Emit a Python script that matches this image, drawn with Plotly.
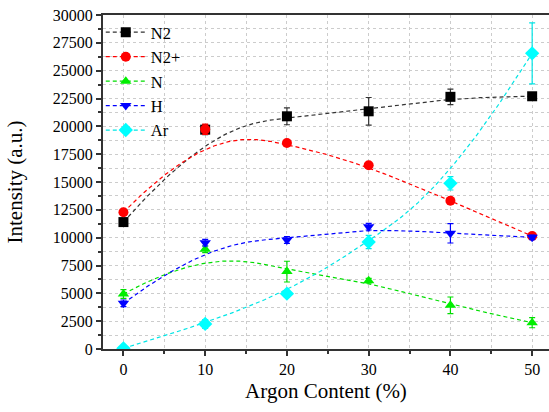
import numpy as np
import plotly.graph_objects as go

argon = [0, 10, 20, 30, 40, 50]
n2 = [11400, 19700, 20900, 21350, 22650, 22700]
n2_err = [150, 450, 760, 1240, 700, 300]
n2p = [12280, 19730, 18500, 16500, 13320, 10150]
n2p_err = [200, 460, 200, 200, 200, 250]
n_at = [4940, 8950, 6950, 6140, 3920, 2360]
n_err = [400, 300, 930, 200, 750, 450]
h_at = [4100, 9550, 9790, 10990, 10390, 10030]
h_err = [300, 300, 300, 300, 870, 200]
ar = [60, 2250, 4970, 9610, 14880, 26560]
ar_err = [100, 400, 300, 600, 600, 2740]

series = [
    ("N2", n2, n2_err, "#000000", "#333333", "square"),
    ("N2+", n2p, n2p_err, "#FF0000", "#FF0000", "circle"),
    ("N", n_at, n_err, "#00EE00", "#00DD00", "triangle-up"),
    ("H", h_at, h_err, "#0000FF", "#0000FF", "triangle-down"),
    ("Ar", ar, ar_err, "#00FFFF", "#00E5E5", "diamond"),
]


def bspline(xs, ys, k=3, n=300):
    xs = np.asarray(xs, float)
    ys = np.asarray(ys, float)
    m = len(xs)
    t = np.concatenate([[0.0] * k, np.linspace(0, 1, m - k + 1), [1.0] * k])
    u = np.linspace(0, 1, n)
    B = np.zeros((len(t) - 1, n))
    for i in range(len(t) - 1):
        B[i] = (t[i] <= u) & (u < t[i + 1])
    B[m - 1, -1] = 1.0
    for p in range(1, k + 1):
        Bn = np.zeros((len(t) - 1 - p, n))
        for i in range(len(t) - 1 - p):
            a = np.zeros(n)
            b = np.zeros(n)
            if t[i + p] > t[i]:
                a = (u - t[i]) / (t[i + p] - t[i]) * B[i]
            if t[i + p + 1] > t[i + 1]:
                b = (t[i + p + 1] - u) / (t[i + p + 1] - t[i + 1]) * B[i + 1]
            Bn[i] = a + b
        B = Bn
    B = B[:m]
    return xs @ B, ys @ B


font = "Liberation Serif"
fig = go.Figure()
dash = "4px,3px"

for name, vals, err, col, lcol, sym in series:
    cx, cy = bspline(argon, vals)
    fig.add_trace(go.Scatter(x=cx, y=cy, mode="lines", showlegend=False,
                             line=dict(color=lcol, width=1.2, dash=dash), hoverinfo="skip"))

for name, vals, err, col, lcol, sym in series:
    fig.add_trace(go.Scatter(x=argon, y=vals, mode="markers", showlegend=False,
                             marker=dict(symbol=sym, color=col, size=10 if sym != "diamond" else 11),
                             error_y=dict(type="data", array=err, color=lcol, thickness=1.2, width=3)))

for name, vals, err, col, lcol, sym in series:
    fig.add_trace(go.Scatter(x=[None], y=[None], mode="lines+markers", name=name,
                             marker=dict(symbol=sym, color=col, size=10 if sym != "diamond" else 11),
                             line=dict(color=lcol, width=1.2, dash=dash)))

grid = dict(showgrid=True, gridcolor="#CCCCCC", griddash="dot", gridwidth=1)
tickfont = dict(family=font, size=16, color="black")

fig.update_layout(
    width=549, height=412,
    margin=dict(l=103, r=0, t=15, b=63),
    paper_bgcolor="white", plot_bgcolor="white",
    font=dict(family=font, size=16, color="black"),
    legend=dict(x=-0.005, y=1.0, xanchor="left", yanchor="top", bgcolor="rgba(0,0,0,0)",
                font=dict(family=font, size=16.5, color="black"), tracegroupgap=0, itemwidth=40),
    xaxis=dict(range=[-2.5, 52.06], tickvals=[0, 10, 20, 30, 40, 50], ticks="outside", ticklen=5,
               tickwidth=1.5, tickcolor="#333333", showline=True, linecolor="#333333", linewidth=2,
               mirror=True, zeroline=False, tickfont=tickfont,
               title=dict(text="Argon Content (%)", font=dict(family=font, size=21, color="black"),
                          standoff=6),
               minor=dict(dtick=5, tick0=0, ticks="outside", ticklen=3, tickcolor="#333333",
                          showgrid=True, gridcolor="#CCCCCC", griddash="dot"),
               **grid),
    yaxis=dict(range=[0, 30000], dtick=2500, tick0=0, ticks="outside", ticklen=5, tickwidth=1.5,
               tickcolor="#333333", showline=True, linecolor="#333333", linewidth=2, zeroline=False,
               tickformat="d", tickfont=tickfont,
               title=dict(text="Intensity (a.u.)", font=dict(family=font, size=21, color="black"),
                          standoff=24),
               minor=dict(dtick=1250, tick0=0, ticks="outside", ticklen=3, tickcolor="#333333",
                          showgrid=True, gridcolor="#CCCCCC", griddash="dot"),
               **grid),
)

fig.write_html("out.html")
